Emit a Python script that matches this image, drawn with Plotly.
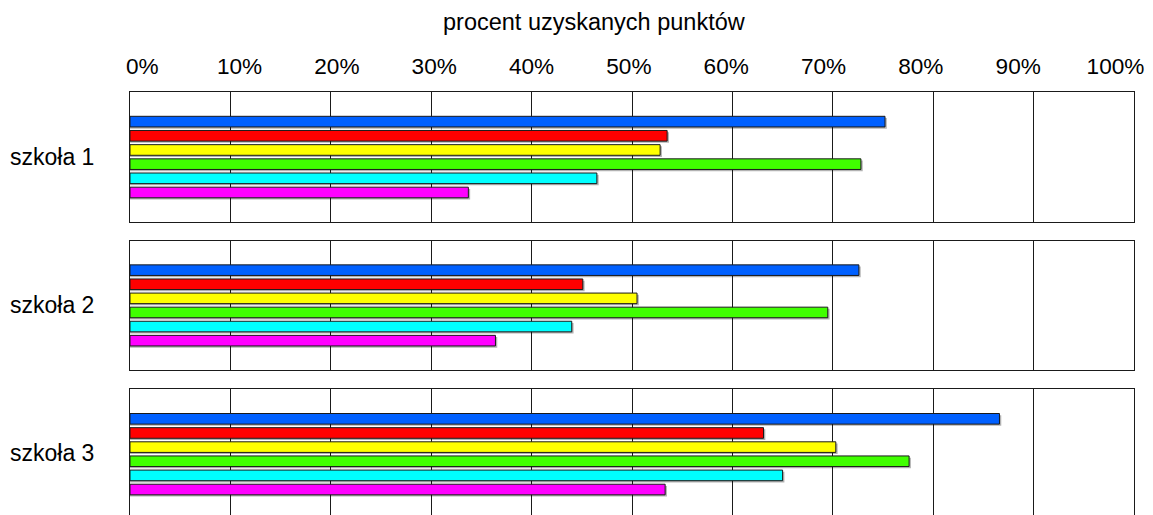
import plotly.graph_objects as go

# Results per school, in percent of points obtained (one value per colour group)
schools = ["szkoła 1", "szkoła 2", "szkoła 3"]
szkola_1 = [75.2, 53.5, 52.8, 72.8, 46.5, 33.7]
szkola_2 = [72.6, 45.1, 50.5, 69.5, 44.0, 36.4]
szkola_3 = [86.6, 63.1, 70.3, 77.6, 65.0, 53.3]
series_colors = ["#0060FF", "#FF0000", "#FFFF00", "#40FF00", "#00FFFF", "#FF00FF"]
tick_values = [0, 10, 20, 30, 40, 50, 60, 70, 80, 90, 100]
tick_labels = [f"{v}%" for v in tick_values]
axis_title = "procent uzyskanych punktów"

panel_values = [szkola_1, szkola_2, szkola_3]
bar_slots = list(range(len(series_colors)))

FONT = "Arial, Liberation Sans, sans-serif"
LINE = "#1a1a1a"

# vertical placement of the three panels (paper fractions) and their y ranges
domains = [[0.6934, 1.0], [0.3435, 0.6485], [0.0, 0.2986]]
y_ranges = [[7.06, -2.09], [7.06, -2.09], [6.80, -2.13]]

fig = go.Figure()

for i, vals in enumerate(panel_values):
    xa = "x" if i == 0 else f"x{i + 1}"
    ya = "y" if i == 0 else f"y{i + 1}"
    # soft drop shadow under each bar (offset a little right and down)
    fig.add_trace(go.Bar(
        orientation="h", x=[v + 0.18 for v in vals], y=bar_slots,
        width=0.75, offset=-0.375 + 0.12,
        marker=dict(color="rgba(0,0,0,0.30)", line=dict(width=0)),
        xaxis=xa, yaxis=ya, hoverinfo="skip", showlegend=False,
    ))
    fig.add_trace(go.Bar(
        orientation="h", x=vals, y=bar_slots, width=0.75, offset=-0.375,
        marker=dict(color=series_colors, line=dict(color=LINE, width=1)),
        xaxis=xa, yaxis=ya, showlegend=False,
    ))

# empty trace so the overlaid percent-label axis gets drawn
fig.add_trace(go.Scatter(x=[], y=[], xaxis="x4", yaxis="y",
                         mode="markers", showlegend=False, hoverinfo="skip"))

layout = dict(
    width=1153, height=515,
    margin=dict(l=130, r=19, t=92, b=0),
    paper_bgcolor="white", plot_bgcolor="white",
    barmode="overlay",
    font=dict(family=FONT, size=22, color="#000"),
    annotations=[],
)

for i in range(3):
    sx = "" if i == 0 else str(i + 1)
    ya = "y" if i == 0 else f"y{i + 1}"
    xaxis = dict(
        domain=[0, 1], range=[0, 100], anchor=ya,
        tickvals=tick_values, showticklabels=False, ticks="",
        showgrid=True, gridcolor=LINE, gridwidth=1, zeroline=False,
        showline=True, linecolor=LINE, linewidth=1,
        mirror=(i < 2), fixedrange=True,
    )
    if i == 2:
        xaxis["side"] = "top"
    layout["xaxis" + sx] = xaxis
    layout["yaxis" + sx] = dict(
        domain=domains[i], range=y_ranges[i], anchor="x" + sx if i else "x",
        showticklabels=False, ticks="", showgrid=False, zeroline=False,
        showline=True, linecolor=LINE, linewidth=1, mirror=True, fixedrange=True,
    )
    layout["annotations"].append(dict(
        text=schools[i], xref="paper", yref="paper",
        x=-0.0777, y=sum(domains[i]) / 2 if i < 2 else (domains[i][1] + (domains[i][1] - 0.305)) / 2,
        xanchor="center", yanchor="middle", showarrow=False,
        font=dict(family=FONT, size=23, color="#000"),
    ))

# percent labels along the top edge
layout["xaxis4"] = dict(
    overlaying="x", anchor="y", side="top", range=[-1.254, 101.9],
    tickvals=tick_values, ticktext=tick_labels, showgrid=False, zeroline=False,
    showline=False, ticks="outside", ticklen=8, tickcolor="rgba(0,0,0,0)",
    tickfont=dict(family=FONT, size=22.6, color="#000"), fixedrange=True,
)

layout["annotations"].append(dict(
    text=axis_title, xref="paper", yref="paper", x=0.4626, y=1.1655,
    xanchor="center", yanchor="middle", showarrow=False,
    font=dict(family=FONT, size=23.5, color="#000"),
))

fig.update_layout(**layout)
fig.write_html("out.html")
